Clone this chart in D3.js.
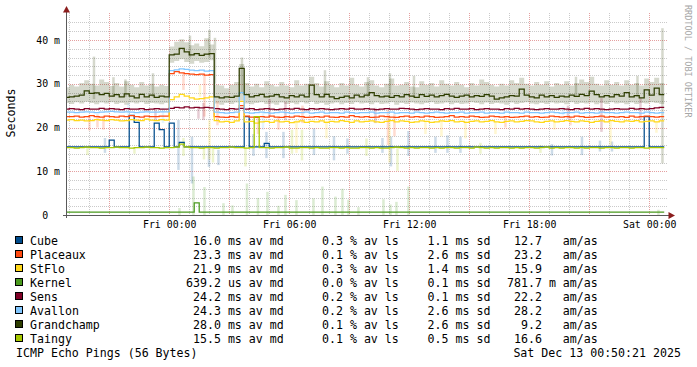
<!DOCTYPE html>
<html>
<head>
<meta charset="utf-8">
<script src="https://cdn.jsdelivr.net/npm/d3@7"></script>
<style>
body { margin: 0; background: #fff; }
svg text { font-family: "DejaVu Sans Mono", monospace; white-space: pre; }
</style>
</head>
<body>
<svg id="chart" width="697" height="367"></svg>
<script>
// ---- data (15 minute slots, first slot starts Thu 18:45) ----
var names = ["Cube", "Placeaux", "StFlo", "Kernel", "Sens", "Avallon", "Grandchamp", "Taingy"];
var colors = ["#004c8c", "#ff4a10", "#ffd81a", "#4a9a1e", "#800026", "#80c6ff", "#2e3d00", "#a6c800"];
var medAvg = ["16.0", "23.3", "21.9", "639.2", "24.2", "24.3", "28.0", "15.5"];
var medUnit = ["ms", "ms", "ms", "us", "ms", "ms", "ms", "ms"];
var lossAvg = ["0.3", "0.1", "0.3", "0.0", "0.2", "0.2", "0.1", "0.1"];
var sdVal = ["1.1", "2.6", "1.4", "0.1", "0.1", "2.6", "2.6", "0.5"];
var amas = ["12.7", "23.2", "15.9", "781.7", "22.2", "28.2", "9.2", "16.6"];
var amasUnit = [" ", " ", " ", "m", " ", " ", " ", " "];

var cube = [
15.6,15.6,15.6,15.6,15.6,15.6,15.6,15.6,15.6,17.1,
15.6,15.6,15.6,22.8,21.2,15.6,15.6,15.6,21.0,19.5,
15.6,21.0,15.6,16.6,15.6,15.6,15.6,15.6,15.6,15.6,
15.6,15.6,15.6,15.6,15.6,15.6,22.5,15.6,15.6,15.6,
16.4,15.6,15.6,15.6,15.6,15.6,15.6,15.6,15.6,15.6,
15.6,15.6,15.6,15.6,15.6,15.6,15.6,15.6,15.6,15.6,
15.6,15.6,15.6,15.6,15.6,15.6,15.6,15.6,15.6,15.6,
15.6,15.6,15.6,15.6,15.6,15.6,15.6,15.6,15.6,15.6,
15.6,15.6,15.6,15.6,15.6,15.6,15.6,15.6,15.6,15.6,
15.6,15.6,15.6,15.6,15.6,15.6,15.6,15.6,15.6,15.6,
15.6,15.6,15.6,15.6,15.6,15.6,15.6,15.6,15.6,15.6,
15.6,15.6,15.6,15.6,15.6,15.6,22.5,15.6,15.6,15.6];
var placeaux = [
22.5,22.5,22.6,22.4,22.5,22.7,22.5,22.4,22.6,22.5,
22.4,22.6,22.5,22.7,22.5,22.4,22.6,22.5,22.5,22.6,
22.6,32.3,32.8,32.5,32.3,32.2,32.1,32.2,32.0,32.1,
22.5,22.4,22.3,22.5,22.4,25.0,22.6,22.4,22.3,22.5,
22.4,22.6,22.4,22.3,22.5,22.4,22.6,22.5,22.3,22.4,
22.5,22.4,22.6,22.4,22.3,22.5,22.4,22.7,22.5,22.4,
22.5,22.3,22.4,22.6,22.5,22.4,22.3,22.5,22.6,22.4,
22.5,22.4,22.6,22.5,22.3,22.4,22.5,22.7,22.4,22.5,
22.4,22.6,22.5,22.3,22.4,22.6,22.5,22.4,22.5,22.3,
22.4,22.5,22.6,22.4,22.5,22.3,22.4,22.6,22.5,22.4,
22.5,22.4,22.6,22.5,22.3,22.4,22.5,22.6,22.4,22.5,
22.4,22.5,22.3,22.6,22.4,22.5,22.6,22.5,22.4,22.5];
var stflo = [
21.7,21.8,21.6,21.7,21.5,21.6,21.8,21.7,21.6,21.8,
21.7,21.5,21.6,21.8,21.7,21.6,21.9,21.7,21.6,21.8,
21.7,26.4,27.0,27.6,27.2,26.8,26.5,26.6,26.8,27.0,
21.6,21.3,21.4,21.2,21.5,26.0,21.3,21.4,21.0,21.3,
21.4,21.2,21.5,21.3,21.4,21.1,21.3,21.5,21.2,21.4,
21.3,21.5,21.2,21.4,21.3,21.6,21.4,21.2,21.5,21.3,
21.4,21.5,21.3,21.2,21.4,21.6,21.3,21.5,21.4,21.2,
21.3,21.5,21.4,21.2,21.3,21.5,21.4,21.6,21.3,21.4,
21.2,21.4,21.5,21.3,21.4,21.6,21.3,21.2,21.4,21.5,
21.3,21.4,21.6,21.5,21.3,21.2,21.4,21.5,21.3,21.4,
21.6,21.4,21.3,21.5,21.4,21.2,21.4,21.5,21.3,21.6,
21.4,21.3,21.5,21.4,21.6,21.3,21.4,21.5,21.3,21.5];
var kernel = [
0.64,0.64,0.64,0.64,0.64,0.64,0.64,0.64,0.64,0.64,
0.64,0.64,0.64,0.64,0.64,0.64,0.64,0.64,0.64,0.64,
0.64,0.64,0.64,0.64,0.64,0.64,2.8,0.64,0.64,0.64,
0.64,0.64,0.64,0.64,0.64,0.64,0.64,0.64,0.64,0.64,
0.64,0.64,0.64,0.64,0.64,0.64,0.64,0.64,0.64,0.64,
0.64,0.64,0.64,0.64,0.64,0.64,0.64,0.64,0.64,0.64,
0.64,0.64,0.64,0.64,0.64,0.64,0.64,0.64,0.64,0.64,
0.64,0.64,0.64,0.64,0.64,0.64,0.64,0.64,0.64,0.64,
0.64,0.64,0.64,0.64,0.64,0.64,0.64,0.64,0.64,0.64,
0.64,0.64,0.64,0.64,0.64,0.64,0.64,0.64,0.64,0.64,
0.64,0.64,0.64,0.64,0.64,0.64,0.64,0.64,0.64,0.64,
0.64,0.64,0.64,0.64,0.64,0.64,0.64,0.64,0.64,0.64];
var sens = [
24.2,24.3,24.2,24.1,24.3,24.2,24.2,24.4,24.2,24.3,
24.2,24.1,24.3,24.2,24.2,24.3,24.1,24.2,24.3,24.2,
24.2,24.4,24.6,24.5,24.7,24.5,24.6,24.5,24.6,24.5,
24.3,24.2,24.1,24.3,24.2,24.4,24.2,24.3,24.1,24.2,
24.3,24.2,24.1,24.2,24.3,24.2,24.4,24.2,24.1,24.3,
24.2,24.3,24.2,24.1,24.2,24.3,24.2,24.4,24.2,24.2,
24.3,24.2,24.1,24.2,24.3,24.2,24.2,24.4,24.3,24.2,
24.1,24.2,24.3,24.2,24.2,24.1,24.3,24.2,24.4,24.2,
24.2,24.3,24.1,24.2,24.3,24.2,24.2,24.1,24.3,24.2,
24.4,24.2,24.3,24.2,24.1,24.2,24.3,24.2,24.2,24.3,
24.2,24.1,24.3,24.2,24.4,24.2,24.3,24.2,24.1,24.2,
24.3,24.2,24.2,24.4,24.2,24.3,24.2,24.3,24.5,24.6];
var avallon = [
23.5,23.5,23.4,23.5,23.6,23.5,23.4,23.5,23.6,23.7,
23.6,23.5,23.6,23.5,23.4,23.5,23.6,23.5,23.5,23.6,
23.6,33.0,33.2,33.4,33.3,33.1,33.0,33.1,32.9,33.0,
23.5,23.4,23.3,23.4,23.5,28.0,23.4,23.3,23.4,23.5,
23.4,23.3,23.4,23.5,23.4,23.3,23.4,23.4,23.5,23.3,
23.4,23.5,23.3,23.4,23.4,23.3,23.5,23.4,23.3,23.4,
23.4,23.5,23.3,23.4,23.4,23.5,23.3,23.4,23.4,23.3,
23.5,23.4,23.3,23.4,23.5,23.4,23.3,23.4,23.4,23.5,
23.3,23.4,23.4,23.5,23.3,23.4,23.4,23.3,23.5,23.4,
23.4,23.3,23.5,23.4,23.4,23.3,23.4,23.5,23.4,23.3,
23.4,23.4,23.5,23.3,23.4,23.4,23.3,23.5,23.4,23.4,
23.3,23.4,23.5,23.4,23.4,23.3,23.5,23.4,23.3,23.4];
var grandchamp = [
26.9,27.0,27.2,27.4,28.4,27.8,27.9,27.5,27.8,27.2,
27.5,27.0,27.7,27.2,26.8,27.6,27.0,27.4,26.9,27.2,
27.0,36.6,36.8,38.1,37.3,36.6,36.9,36.5,36.8,36.9,
27.0,26.8,27.0,26.9,27.2,33.5,27.5,27.0,27.3,27.6,
27.0,27.2,27.5,27.0,26.8,27.3,27.0,27.4,27.0,29.7,
27.5,27.0,27.6,27.0,26.6,26.9,27.2,26.8,27.4,27.0,
27.4,28.0,27.3,27.0,27.2,26.9,27.3,27.0,27.5,27.2,
26.9,27.5,27.1,27.4,27.0,27.3,27.6,27.2,26.9,27.2,
27.4,27.0,27.3,27.1,27.5,27.2,26.5,26.8,27.0,27.3,
27.2,28.8,27.4,27.0,26.8,27.4,27.0,27.3,26.9,27.2,
27.0,27.4,27.1,27.6,27.3,28.3,27.5,27.0,27.3,27.0,
27.5,27.2,28.0,27.0,27.3,26.8,28.6,27.4,29.0,27.5];
var taingy = [
15.4,15.4,15.3,15.4,15.5,15.4,15.4,15.3,15.4,15.4,
15.5,15.4,15.4,15.3,15.4,15.4,15.5,15.4,15.4,15.3,
15.4,15.4,15.5,16.2,15.6,15.4,15.4,15.3,15.4,15.4,
15.3,15.4,15.4,15.5,15.4,15.4,15.3,15.4,22.5,15.4,
15.4,15.3,15.4,15.4,15.5,15.3,15.3,15.4,15.4,15.3,
15.4,15.3,15.3,15.4,15.4,15.3,15.4,15.3,15.3,15.4,
15.4,15.3,15.4,15.3,15.3,15.4,15.5,15.4,15.3,15.4,
15.3,15.4,15.4,15.3,15.4,15.3,15.4,15.4,15.3,15.4,
15.4,15.3,15.5,15.4,15.3,15.4,15.3,15.4,15.4,15.3,
15.4,15.3,15.4,15.4,15.3,15.4,15.5,15.3,15.4,15.3,
15.4,15.4,15.3,15.4,15.3,15.4,15.4,15.3,15.4,15.4,
15.3,15.4,15.4,15.3,15.4,15.4,15.3,15.4,15.4,15.4];

// smoke band of Grandchamp (low / high ping per slot)
var gcLo = [
25.6,25.4,25.8,25.5,25.9,25.6,25.3,25.7,25.5,25.8,
25.4,25.6,25.2,25.7,25.5,25.8,25.4,25.6,25.5,25.3,
25.6,34.8,35.2,35.6,35.0,34.6,35.2,34.8,35.0,35.4,
25.5,25.2,25.6,25.4,25.7,26.2,25.5,25.3,25.6,25.8,
25.4,25.5,25.2,25.7,25.4,25.6,25.3,25.8,25.5,25.9,
25.4,25.6,25.2,25.5,25.7,25.3,25.6,25.4,25.8,25.5,
25.6,25.3,25.7,25.4,25.5,25.8,25.2,25.6,25.4,25.7,
25.5,25.3,25.6,25.8,25.4,25.5,25.7,25.3,25.6,25.4,
25.5,25.8,25.6,25.3,25.7,25.4,25.6,25.5,25.2,25.7,
25.4,25.6,25.8,25.5,25.3,25.6,25.4,25.7,25.5,25.6,
25.3,25.8,25.4,25.6,25.5,25.7,25.3,25.6,25.4,25.8,
25.5,25.6,25.3,25.7,25.4,25.6,25.5,25.8,25.6,25.4];
var gcHi = [
29.2,29.8,29.4,30.2,30.8,30.0,29.6,31.0,30.4,29.5,
30.2,29.4,30.6,29.8,29.2,30.4,29.6,30.0,29.4,29.8,
29.5,38.5,39.6,40.2,39.5,38.8,39.2,38.6,40.4,39.0,
29.8,29.6,29.0,29.8,30.4,34.5,30.2,29.4,30.0,29.2,
30.6,29.8,29.4,30.4,29.6,29.2,30.8,29.6,30.0,31.6,
30.2,29.4,30.6,29.8,29.2,30.2,29.6,31.4,29.8,29.4,
30.4,30.8,29.6,29.2,30.0,31.2,29.6,29.8,30.4,29.4,
29.2,30.6,29.8,30.2,29.4,30.8,30.0,29.6,30.4,29.8,
29.2,30.2,29.6,31.0,30.4,29.8,29.4,30.0,29.6,30.8,
30.2,31.4,30.0,29.6,30.4,29.8,30.6,29.4,30.2,29.8,
30.6,29.6,30.2,31.0,30.4,31.6,30.0,29.6,30.8,29.8,
30.4,29.6,30.8,29.8,30.2,29.6,31.2,30.4,31.4,30.2];

// isolated smoke bars: [slot, low, high]
var smoke = [
  [[7.9,14.2,17.6],[22.6,10.3,21.7],[25.3,7.2,17.9],[28.7,11.0,15.6],[30.6,11.4,14.9],[37.6,13.5,18.5],
   [40.2,13.0,19.0],[43.6,13.0,19.0],[49.7,13.7,19.8],[53.7,12.5,18.0],[56.4,14.0,17.5],[63.4,14.2,17.6],
   [65.1,11.1,17.9],[68.6,13.5,19.2],[74.0,14.2,17.9],[76.4,14.2,18.2],[79.0,14.2,17.9],[97.3,13.6,16.2],
   [103.3,13.7,17.9],[106.9,14.5,17.0],[109.3,14.5,16.8]],
  [[4.8,19.3,22.5],[6.4,20.0,23.0],[7.6,19.5,22.5],[23.6,28.6,32.4],[27.8,22.5,32.0],[30.4,20.5,26.0],
   [38.5,18.5,22.5],[42.6,19.5,22.5],[47.4,21.0,25.0],[64.5,16.0,24.0],[65.8,18.0,23.0],[88.0,20.0,22.5],
   [101.0,20.5,22.5]],
  [[26.9,27.0,29.7],[28.8,12.7,21.7],[46.2,14.2,21.7],[52.2,17.5,21.5],[64.8,12.0,22.5],[72.0,18.5,21.5],
   [75.2,18.0,21.5],[80.0,17.5,21.5],[86.0,18.5,21.5],[97.8,19.5,21.5],[109.0,16.0,21.5],[118.2,18.8,21.3]],
  [[22.8,0,1.6],[25.6,0,8.8],[27.8,0,6.4],[31.6,0,2.7],[33.4,0,2.2],[36.3,0,7.2],[38.5,0,3.9],[40.4,0,5.3],
   [42.6,0,2.1],[44.0,0,4.6],[46.2,0,3.4],[49.6,0,3.8],[51.4,0,6.5],[54.0,0,4.2],[55.4,0,6.0],[56.6,0,3.5],
   [58.6,0,1.8],[63.6,0,3.6],[65.0,0,2.4],[66.2,0,3.0],[68.6,0,6.5],[118.6,0,1.2]],
  [[18.0,21.5,24.2],[26.6,22.0,24.5],[27.6,21.7,25.6],[40.8,22.5,26.5],[44.0,21.7,25.9],[62.0,21.0,24.5],
   [100.5,22.0,25.0],[107.2,19.0,26.7],[115.0,21.7,26.7]],
  [[12.6,22.5,25.5],[19.5,21.0,24.5],[39.5,19.5,23.5],[99.5,22.8,24.8],[116.9,21.5,25.0]],
  [[5.7,26.5,36.2],[9.6,27.0,31.5],[12.0,27.0,31.0],[17.5,27.0,32.4],[24.9,36.0,41.0],[28.8,36.0,42.3],
   [29.9,30.0,40.5],[35.3,28.0,36.0],[51.9,27.0,33.1],[60.5,27.0,31.5],[64.9,27.0,32.4],[69.7,27.0,31.8],
   [102.1,27.0,31.6],[114.4,27.0,31.8],[119.4,11.8,42.7]],
  [[4.4,13.7,15.5],[13.8,14.0,15.5],[23.6,13.5,17.6],[27.7,12.7,15.5],[29.5,12.0,15.5],[36.0,11.1,15.6],
   [45.3,14.0,19.5],[47.3,12.5,19.5],[60.2,13.5,17.5],[66.4,10.1,15.5],[83.0,14.0,16.5],[95.0,14.2,16.0]]
];

var medians = [cube, placeaux, stflo, kernel, sens, avallon, grandchamp, taingy];

var yTicks = [0, 10, 20, 30, 40];
var tStart = new Date(2025, 11, 11, 18, 50, 21);
var tEnd = new Date(2025, 11, 13, 0, 50, 21);
var slot0 = new Date(2025, 11, 11, 18, 45, 0);
var footTitle = "ICMP Echo Pings (56 Bytes)";
var footDate = "Sat Dec 13 00:50:21 2025";

function slotTime(k)
{
	return new Date(slot0.getTime() + k * 15 * 60000);
}

// ---- drawing ----
var svg = d3.select("#chart");
var x = d3.scaleTime().domain([tStart, tEnd]).range([66, 666]);
var y = d3.scaleLinear().domain([0, 200 / 4.375]).range([215, 15]);

svg.append("rect").attr("width", 697).attr("height", 367).attr("fill", "#fff");

// grid
var grid = svg.append("g").attr("stroke-dasharray", "1,1").attr("stroke-width", 1);
var hMinor = d3.range(2, 46, 2).filter(function(d){ return d % 10 != 0; });
grid.selectAll(".hmin").data(hMinor).enter().append("line")
	.attr("x1", 66).attr("x2", 668)
	.attr("y1", function(d){ return Math.round(y(d)) + 0.5; })
	.attr("y2", function(d){ return Math.round(y(d)) + 0.5; })
	.attr("stroke", "#cacaca");
var hours = x.ticks(d3.timeHour.every(1));
grid.selectAll(".vmin").data(hours.filter(function(d){ return d.getHours() % 3 != 0; })).enter().append("line")
	.attr("x1", function(d){ return Math.round(x(d)) + 0.5; })
	.attr("x2", function(d){ return Math.round(x(d)) + 0.5; })
	.attr("y1", 13).attr("y2", 215)
	.attr("stroke", "#cacaca");
grid.selectAll(".vmaj").data(hours.filter(function(d){ return d.getHours() % 3 == 0; })).enter().append("line")
	.attr("x1", function(d){ return Math.round(x(d)) + 0.5; })
	.attr("x2", function(d){ return Math.round(x(d)) + 0.5; })
	.attr("y1", 13).attr("y2", 215)
	.attr("stroke", "#e4a0a0");
grid.selectAll(".hmaj").data(yTicks.slice(1)).enter().append("line")
	.attr("x1", 66).attr("x2", 668)
	.attr("y1", function(d){ return Math.round(y(d)) + 0.5; })
	.attr("y2", function(d){ return Math.round(y(d)) + 0.5; })
	.attr("stroke", "#e4a0a0");

svg.append("clipPath").attr("id", "plot").append("rect")
	.attr("x", 66).attr("y", 10).attr("width", 600).attr("height", 205);
var plot = svg.append("g").attr("clip-path", "url(#plot)");

// smoke
var slots = d3.range(121);
var band = d3.area().curve(d3.curveStepAfter)
	.x(function(k){ return x(slotTime(k)); })
	.y0(function(k){ return y(gcLo[Math.min(k, 119)]); })
	.y1(function(k){ return y(gcHi[Math.min(k, 119)]); });
plot.append("path").attr("d", band(slots)).attr("fill", colors[6]).attr("fill-opacity", 0.2);

smoke.forEach(function(list, s)
{
	plot.append("g").selectAll("rect").data(list).enter().append("rect")
		.attr("x", function(d){ return x(slotTime(d[0])); })
		.attr("width", function(d){ return x(slotTime(d[0] + 0.5)) - x(slotTime(d[0])); })
		.attr("y", function(d){ return y(d[2]); })
		.attr("height", function(d){ return y(d[1]) - y(d[2]); })
		.attr("fill", colors[s]).attr("fill-opacity", 0.2);
});

// median lines
var line = d3.line().curve(d3.curveStepAfter)
	.x(function(d){ return x(d.t); })
	.y(function(d){ return y(d.v); });
medians.forEach(function(arr, s)
{
	var pts = arr.map(function(v, k){ return {t: slotTime(k), v: v}; });
	pts.push({t: slotTime(arr.length), v: arr[arr.length - 1]});
	plot.append("path").attr("d", line(pts))
		.attr("fill", "none").attr("stroke", colors[s]).attr("stroke-width", 1.25);
});

// axes
svg.append("line").attr("x1", 66.5).attr("x2", 66.5).attr("y1", 11).attr("y2", 218).attr("stroke", "#5a5a5a");
svg.append("line").attr("x1", 63).attr("x2", 669).attr("y1", 215.5).attr("y2", 215.5).attr("stroke", "#5a5a5a");
svg.append("path").attr("d", "M63,12.5L70,12.5L66.5,6Z").attr("fill", "#8b1d1d");
svg.append("path").attr("d", "M668.5,212L668.5,219L675,215.5Z").attr("fill", "#8b1d1d");

var yAxis = d3.axisLeft(y).tickValues(yTicks).tickSize(0).tickPadding(6)
	.tickFormat(function(d){ return d == 0 ? "0  " : d + " m"; });
var gy = svg.append("g").attr("transform", "translate(66,0)").call(yAxis);
gy.select(".domain").remove();
gy.selectAll("text").attr("font-family", "DejaVu Sans Mono").attr("font-size", "9.9px").attr("fill", "#000");

var xAxis = d3.axisBottom(x).ticks(d3.timeHour.every(6)).tickSize(0).tickPadding(6)
	.tickFormat(d3.timeFormat("%a %H:%M"));
var gx = svg.append("g").attr("transform", "translate(0,215)").call(xAxis);
gx.select(".domain").remove();
gx.selectAll("text").attr("font-family", "DejaVu Sans Mono").attr("font-size", "9.9px").attr("fill", "#000");

svg.append("text").attr("transform", "translate(15,113) rotate(-90)")
	.attr("text-anchor", "middle").attr("font-size", "11.6px").text("Seconds");

svg.append("text").attr("transform", "translate(684.5,5) rotate(90)")
	.attr("font-size", "8.5px").attr("fill", "#a6a6a6").text("RRDTOOL / TOBI OETIKER");

// legend
var leg = svg.append("g").attr("font-size", "11.6px").attr("fill", "#000");
names.forEach(function(n, i)
{
	var yy = 245 + i * 14;
	leg.append("rect").attr("x", 15.5).attr("y", yy - 8.5).attr("width", 7).attr("height", 7)
		.attr("fill", colors[i]).attr("stroke", "#000");
	leg.append("text").attr("x", 30).attr("y", yy).text(n);
	leg.append("text").attr("x", 186).attr("y", yy).text(medAvg[i].padStart(5) + " " + medUnit[i] + " av md");
	leg.append("text").attr("x", 322).attr("y", yy).text(lossAvg[i] + " % av ls");
	leg.append("text").attr("x", 427.6).attr("y", yy).text(sdVal[i] + " ms sd");
	leg.append("text").attr("x", 507).attr("y", yy).text(amas[i].padStart(5) + " " + amasUnit[i] + " am/as");
});
leg.append("text").attr("x", 16).attr("y", 357).text(footTitle);
leg.append("text").attr("x", 513.4).attr("y", 357).text(footDate);
</script>
</body>
</html>
